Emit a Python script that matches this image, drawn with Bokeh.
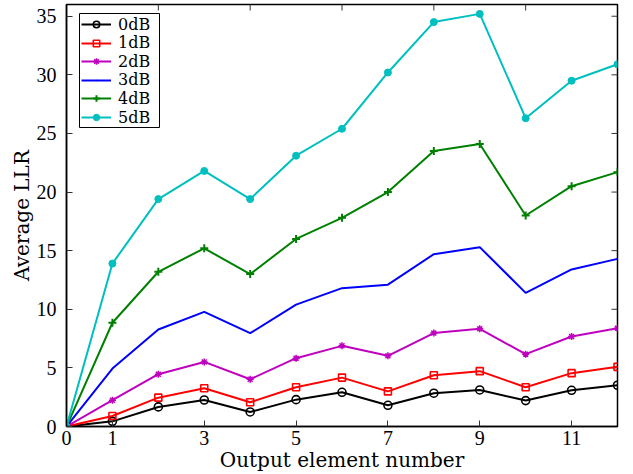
from bokeh.plotting import figure
from bokeh.models import FixedTicker, Range1d, Legend, LegendItem, BoxAnnotation
from bokeh.embed import file_html
from bokeh.resources import INLINE

x = list(range(13))
series_names = ["0dB", "1dB", "2dB", "3dB", "4dB", "5dB"]
llr_0db = [0, 0.44, 1.67, 2.26, 1.24, 2.29, 2.92, 1.81, 2.84, 3.12, 2.21, 3.09, 3.52]
llr_1db = [0, 0.90, 2.46, 3.26, 2.07, 3.35, 4.17, 3.00, 4.37, 4.72, 3.35, 4.55, 5.09]
llr_2db = [0, 2.24, 4.46, 5.51, 4.03, 5.83, 6.88, 6.03, 7.97, 8.33, 6.17, 7.68, 8.39]
llr_3db = [0, 4.94, 8.27, 9.78, 7.96, 10.4, 11.8, 12.1, 14.7, 15.3, 11.4, 13.4, 14.3]
llr_4db = [0, 8.85, 13.2, 15.2, 13.0, 16.0, 17.8, 20.0, 23.5, 24.1, 18.0, 20.5, 21.7]
llr_5db = [0, 13.9, 19.4, 21.8, 19.4, 23.1, 25.4, 30.2, 34.5, 35.2, 26.3, 29.5, 30.9]
bottom_ticks = [0, 1, 3, 5, 7, 9, 11]
top_ticks = [2, 4, 6, 8, 10]
y_ticks = [0, 5, 10, 15, 20, 25, 30, 35]

X_MAX, Y_MAX = 12, 36
FW, FH = 551, 422
TICK_FONT = "Liberation Serif"
LABEL_FONT = "DejaVu Serif"

p = figure(output_backend="svg", toolbar_location=None,
           frame_width=FW, frame_height=FH,
           min_border_left=66, min_border_right=8, min_border_top=4, min_border_bottom=44,
           x_range=Range1d(0, X_MAX), y_range=Range1d(0, Y_MAX),
           x_axis_label="Output element number", y_axis_label="Average LLR")
p.grid.visible = False
p.outline_line_color = "black"
p.outline_line_width = 1.5
p.background_fill_color = "white"
p.border_fill_color = "white"

for ax in (p.xaxis[0], p.yaxis[0]):
    ax.major_tick_in = 6
    ax.major_tick_out = 0
    ax.minor_tick_line_color = None
    ax.axis_line_width = 1.5
    ax.axis_line_color = "black"
    ax.major_tick_line_color = "#333333"
    ax.major_label_text_font = TICK_FONT
    ax.major_label_text_font_size = "20px"
    ax.major_label_text_color = "black"
    ax.axis_label_text_font = LABEL_FONT
    ax.axis_label_text_font_size = "20px"
    ax.axis_label_text_font_style = "normal"
    ax.axis_label_text_color = "black"

p.xaxis[0].ticker = FixedTicker(ticks=bottom_ticks)
p.yaxis[0].ticker = FixedTicker(ticks=y_ticks)
p.xaxis[0].major_label_standoff = 4
p.xaxis[0].axis_label_standoff = 0
p.yaxis[0].major_label_standoff = 10
p.yaxis[0].axis_label_standoff = 0

# pixel -> data conversion factors for the fixed-size frame
PX_X = X_MAX / FW
PX_Y = Y_MAX / FH

# inward tick marks on the top and right frame edges (6 px long)
p.segment(x0=top_ticks, y0=[Y_MAX] * len(top_ticks), x1=top_ticks, y1=[Y_MAX - 6 * PX_Y] * len(top_ticks),
          line_color="#333333", line_width=1)
p.segment(x0=[X_MAX] * len(y_ticks), y0=y_ticks, x1=[X_MAX - 6 * PX_X] * len(y_ticks), y1=y_ticks,
          line_color="#333333", line_width=1)

colors = ["black", "#ff0000", "#bf00bf", "#0000ff", "#008000", "#00bfbf"]
data = [llr_0db, llr_1db, llr_2db, llr_3db, llr_4db, llr_5db]
item_renderers = []
for name, ys, c in zip(series_names, data, colors):
    r_line = p.line(x, ys, line_color=c, line_width=2)
    rs = [r_line]
    if name == "0dB":
        rs.append(p.scatter(x, ys, marker="circle", size=8, fill_color=None, line_color=c, line_width=1.6))
    elif name == "1dB":
        rs.append(p.scatter(x, ys, marker="square", size=7, fill_color=None, line_color=c, line_width=1.6))
    elif name == "2dB":
        rs.append(p.scatter(x, ys, marker="asterisk", size=7, line_color=c, line_width=1.5))
    elif name == "3dB":
        rs.append(p.scatter(x, ys, marker="dot", size=3, line_color=c, fill_color=c))
    elif name == "4dB":
        rs.append(p.scatter(x, ys, marker="cross", size=8, line_color=c, line_width=2))
    else:
        rs.append(p.scatter(x, ys, marker="circle", size=7, line_color=c, fill_color=c))
    item_renderers.append(rs)

# legend frame: 13 px from the left edge, 9 px below the top edge, 80 x 114 px
BOX_L, BOX_T, BOX_W, BOX_H = 13, 9, 80, 114
box = BoxAnnotation(left=BOX_L * PX_X, right=(BOX_L + BOX_W) * PX_X,
                    top=Y_MAX - BOX_T * PX_Y, bottom=Y_MAX - (BOX_T + BOX_H) * PX_Y,
                    fill_color="white", fill_alpha=1, line_color="black", line_width=1,
                    line_alpha=1)
p.add_layout(box)

LEG_FONT_PX = 16
ROW_PITCH = 18.6
FIRST_ROW = BOX_T + 11                # centre of first row, px below the frame top
ROW_H = round(LEG_FONT_PX * 1.164)    # measured height of one legend row
for i, (name, rs) in enumerate(zip(series_names, item_renderers)):
    centre = FIRST_ROW + ROW_PITCH * i
    vy = FH - (centre + ROW_H / 2)
    lg = Legend(items=[LegendItem(label=name, renderers=rs)], location=(BOX_L + 2, vy))
    lg.margin = 0
    lg.padding = 0
    lg.spacing = 0
    lg.label_height = 16
    lg.glyph_height = 16
    lg.glyph_width = 30
    lg.label_standoff = 7
    lg.label_text_font = LABEL_FONT
    lg.label_text_font_size = f"{LEG_FONT_PX}px"
    lg.label_text_color = "black"
    lg.border_line_color = None
    lg.background_fill_alpha = 0
    p.add_layout(lg, "center")

open("out.html", "w").write(file_html(p, INLINE))
